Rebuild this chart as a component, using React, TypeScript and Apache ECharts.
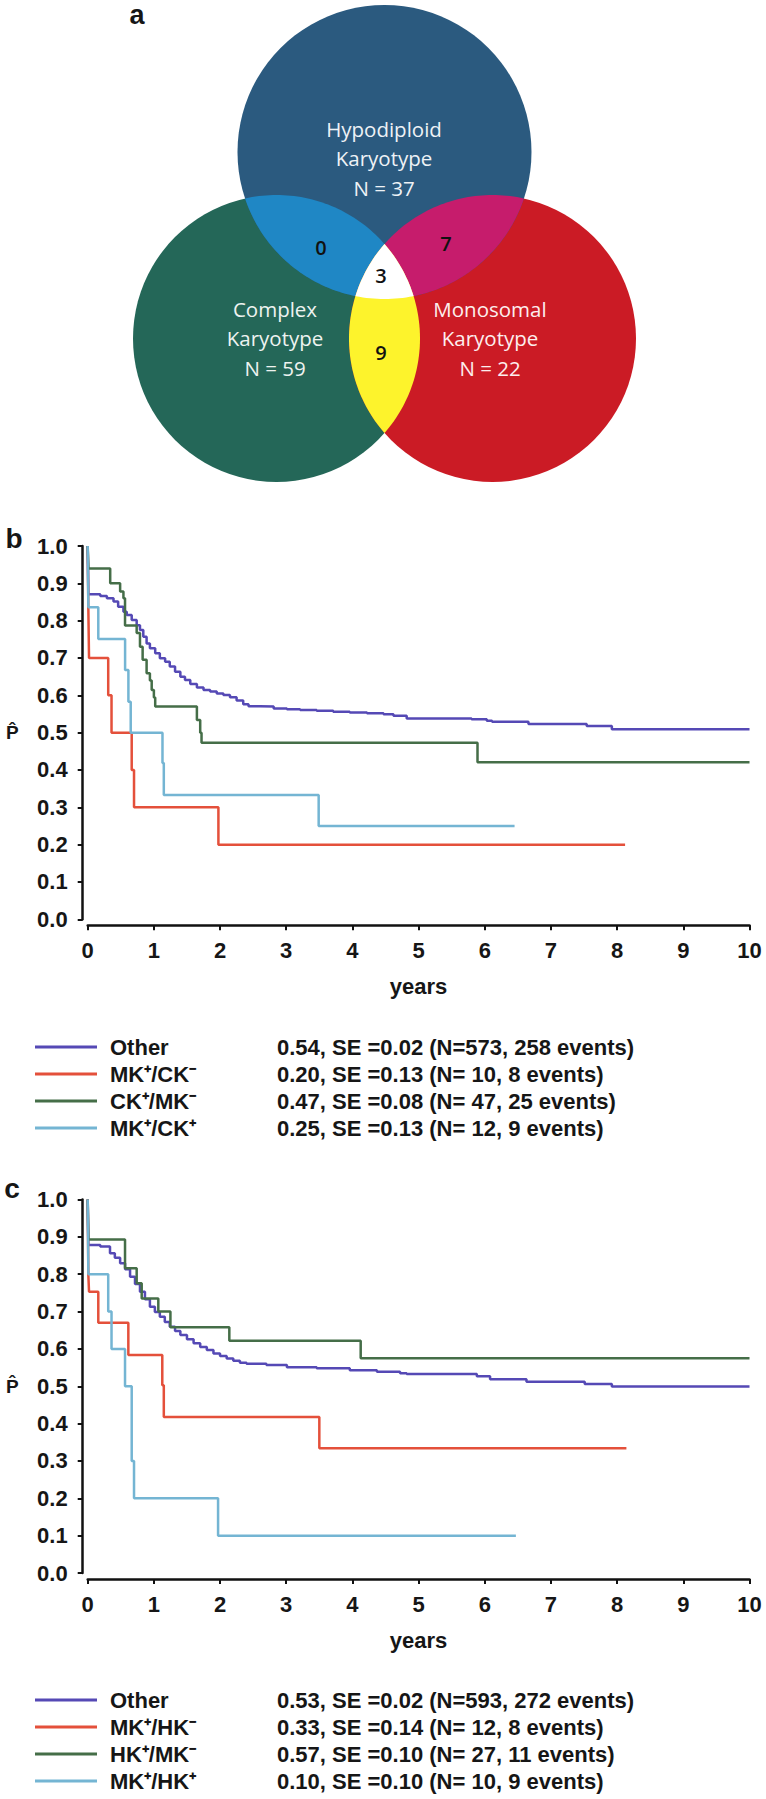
import React, { useEffect, useRef } from "react";
import * as echarts from "echarts";

// ---------- Panel a: Venn diagram counts ----------
const vennSetTitles = ["Hypodiploid\nKaryotype", "Complex\nKaryotype", "Monosomal\nKaryotype"];
const vennSetTotals = [37, 59, 22];
const vennOverlapHkCk = 0;
const vennOverlapHkMk = 7;
const vennOverlapCkMk = 9;
const vennOverlapAll = 3;

// ---------- Panel b: Kaplan-Meier, MK / CK ----------
const bNames = ["Other", "MK⁺/CK⁻", "CK⁺/MK⁻", "MK⁺/CK⁺"];
const bStats = [
  "0.54, SE =0.02 (N=573, 258 events)",
  "0.20, SE =0.13 (N= 10, 8 events)",
  "0.47, SE =0.08 (N= 47, 25 events)",
  "0.25, SE =0.13 (N= 12, 9 events)",
];
const bOther = [
  [0, 1.0], [0.01, 0.871], [0.19, 0.866], [0.29, 0.86], [0.39, 0.851], [0.46, 0.837], [0.54, 0.824],
  [0.59, 0.815], [0.665, 0.802], [0.74, 0.788], [0.79, 0.775], [0.84, 0.757], [0.89, 0.739], [0.94, 0.726],
  [1.02, 0.713], [1.09, 0.699], [1.17, 0.69], [1.24, 0.677], [1.32, 0.663], [1.4, 0.65], [1.47, 0.641],
  [1.55, 0.63], [1.65, 0.621], [1.75, 0.614], [1.85, 0.61], [1.95, 0.605], [2.05, 0.601], [2.15, 0.595],
  [2.25, 0.586], [2.35, 0.576], [2.43, 0.571], [2.6, 0.57], [2.81, 0.565], [3.01, 0.563], [3.21, 0.561],
  [3.46, 0.559], [3.71, 0.556], [3.96, 0.554], [4.22, 0.552], [4.47, 0.549], [4.62, 0.545], [4.82, 0.538],
  [5.8, 0.536], [6.03, 0.532], [6.11, 0.529], [6.66, 0.523], [7.54, 0.518], [7.92, 0.509], [10, 0.509],
];
const bMkPosCkNeg = [
  [0, 1.0], [0.01, 0.83], [0.02, 0.7], [0.31, 0.6], [0.36, 0.5], [0.665, 0.4], [0.7, 0.3], [1.975, 0.2], [8.12, 0.2],
];
const bCkPosMkNeg = [
  [0, 1.0], [0.01, 0.94], [0.34, 0.9], [0.49, 0.878], [0.54, 0.86], [0.564, 0.787], [0.74, 0.767], [0.79, 0.73],
  [0.83, 0.695], [0.89, 0.659], [0.94, 0.64], [0.967, 0.614], [1.0, 0.594], [1.02, 0.57], [1.65, 0.534],
  [1.7, 0.5], [1.72, 0.473], [5.89, 0.421], [10, 0.421],
];
const bMkPosCkPos = [
  [0, 1.0], [0.01, 0.836], [0.16, 0.751], [0.565, 0.668], [0.615, 0.583], [0.65, 0.5], [1.13, 0.419],
  [1.15, 0.333], [3.49, 0.25], [6.45, 0.25],
];

// ---------- Panel c: Kaplan-Meier, MK / HK ----------
const cNames = ["Other", "MK⁺/HK⁻", "HK⁺/MK⁻", "MK⁺/HK⁺"];
const cStats = [
  "0.53, SE =0.02 (N=593, 272 events)",
  "0.33, SE =0.14 (N= 12, 8 events)",
  "0.57, SE =0.10 (N= 27, 11 events)",
  "0.10, SE =0.10 (N= 10, 9 events)",
];
const cOther = [
  [0, 1.0], [0.01, 0.878], [0.19, 0.874], [0.337, 0.856], [0.41, 0.844], [0.49, 0.829], [0.565, 0.813],
  [0.64, 0.793], [0.715, 0.774], [0.79, 0.753], [0.865, 0.733], [0.94, 0.713], [1.015, 0.699], [1.09, 0.686],
  [1.165, 0.672], [1.24, 0.659], [1.32, 0.648], [1.4, 0.637], [1.5, 0.626], [1.6, 0.615], [1.7, 0.605],
  [1.8, 0.597], [1.9, 0.588], [2.0, 0.581], [2.1, 0.574], [2.2, 0.568], [2.3, 0.563], [2.4, 0.56],
  [2.7, 0.557], [3.01, 0.551], [3.46, 0.548], [3.96, 0.543], [4.37, 0.539], [4.72, 0.535], [4.82, 0.533],
  [5.88, 0.527], [6.08, 0.519], [6.63, 0.512], [7.51, 0.506], [7.92, 0.499], [10, 0.499],
];
const cMkPosHkNeg = [
  [0, 1.0], [0.01, 0.798], [0.02, 0.753], [0.16, 0.67], [0.614, 0.584], [1.127, 0.503], [1.15, 0.418],
  [3.5, 0.334], [8.14, 0.334],
];
const cHkPosMkNeg = [
  [0, 1.0], [0.01, 0.893], [0.564, 0.816], [0.74, 0.776], [0.816, 0.735], [1.067, 0.7], [1.25, 0.658],
  [2.14, 0.622], [4.125, 0.575], [10, 0.575],
];
const cMkPosHkPos = [
  [0, 1.0], [0.01, 0.8], [0.31, 0.7], [0.36, 0.6], [0.564, 0.5], [0.665, 0.3], [0.7, 0.2], [1.97, 0.1], [6.47, 0.1],
];

// ---------- styles / layout ----------
const lineColors = ["#5549b5", "#e4503b", "#456e48", "#74b5d3"];
const FONT = "'Liberation Sans', Arial, sans-serif";
const TXT = "#161616";
const VENN_FONT = "'Open Sans', 'Noto Sans', sans-serif";
const circTop = { cx: 384.5, cy: 152, r: 147 };
const circLeft = { cx: 276.5, cy: 338.5, r: 143.5 };
const circRight = { cx: 492.5, cy: 338.5, r: 143.5 };
const vennFill = {
  top: "#2b5a7f",
  left: "#246758",
  right: "#cb1b25",
  topLeft: "#1f87c5",
  topRight: "#c61c6c",
  leftRight: "#fdf32c",
  all: "#ffffff",
};
const gridB = { left: 87.7, top: 546, width: 661.8, height: 373.3 };
const gridC = { left: 87.7, top: 1199.5, width: 661.8, height: 373.5 };

type Pt = number[];
function circlePoly(c: { cx: number; cy: number; r: number }, n = 256): Pt[] {
  const pts: Pt[] = [];
  for (let i = 0; i < n; i++) {
    const a = (i / n) * Math.PI * 2;
    pts.push([c.cx + c.r * Math.cos(a), c.cy + c.r * Math.sin(a)]);
  }
  return pts;
}
function clipConvex(subject: Pt[], clip: Pt[]): Pt[] {
  let area = 0;
  for (let i = 0; i < clip.length; i++) {
    const p = clip[i], q = clip[(i + 1) % clip.length];
    area += p[0] * q[1] - q[0] * p[1];
  }
  const s = area > 0 ? 1 : -1;
  const inside = (p: Pt, a: Pt, b: Pt) => s * ((b[0] - a[0]) * (p[1] - a[1]) - (b[1] - a[1]) * (p[0] - a[0])) >= 0;
  const inter = (p: Pt, q: Pt, a: Pt, b: Pt): Pt => {
    const dx1 = q[0] - p[0], dy1 = q[1] - p[1], dx2 = b[0] - a[0], dy2 = b[1] - a[1];
    const den = dx1 * dy2 - dy1 * dx2;
    const t = ((a[0] - p[0]) * dy2 - (a[1] - p[1]) * dx2) / den;
    return [p[0] + t * dx1, p[1] + t * dy1];
  };
  let out = subject.slice();
  for (let i = 0; i < clip.length && out.length; i++) {
    const a = clip[i], b = clip[(i + 1) % clip.length];
    const inp = out;
    out = [];
    let prev = inp[inp.length - 1];
    for (const cur of inp) {
      const ci = inside(cur, a, b), pi = inside(prev, a, b);
      if (ci) {
        if (!pi) out.push(inter(prev, cur, a, b));
        out.push(cur);
      } else if (pi) out.push(inter(prev, cur, a, b));
      prev = cur;
    }
  }
  return out;
}

function vennGraphics() {
  const pT = circlePoly(circTop), pL = circlePoly(circLeft), pR = circlePoly(circRight);
  const tl = clipConvex(pT, pL), tr = clipConvex(pT, pR), lr = clipConvex(pL, pR);
  const all = clipConvex(tl, pR);
  const label = (text: string, x: number, y: number, fill: string, size: number, weight: string) => ({
    type: "text", x, y, z: 5, silent: true,
    style: { text, fill, font: `${weight} ${size}px ${VENN_FONT}`, align: "center", verticalAlign: "middle",
      textAlign: "center", textVerticalAlign: "middle", lineHeight: 29.5 },
  });
  return [
    { type: "circle", z: 1, silent: true, shape: { ...circLeft }, style: { fill: vennFill.left } },
    { type: "circle", z: 1, silent: true, shape: { ...circRight }, style: { fill: vennFill.right } },
    { type: "circle", z: 1, silent: true, shape: { ...circTop }, style: { fill: vennFill.top } },
    { type: "polygon", z: 2, silent: true, shape: { points: tl }, style: { fill: vennFill.topLeft } },
    { type: "polygon", z: 2, silent: true, shape: { points: tr }, style: { fill: vennFill.topRight } },
    { type: "polygon", z: 2, silent: true, shape: { points: lr }, style: { fill: vennFill.leftRight } },
    { type: "polygon", z: 3, silent: true, shape: { points: all }, style: { fill: vennFill.all } },
    label(`${vennSetTitles[0]}\nN = ${vennSetTotals[0]}`, 384, 158, "#eef2f6", 20.5, "normal"),
    label(`${vennSetTitles[1]}\nN = ${vennSetTotals[1]}`, 275, 338, "#eef3f0", 20.5, "normal"),
    label(`${vennSetTitles[2]}\nN = ${vennSetTotals[2]}`, 490, 338, "#fdeeee", 20.5, "normal"),
    label(String(vennOverlapHkCk), 321, 247, "#111", 20, "600"),
    label(String(vennOverlapHkMk), 446, 243, "#111", 20, "600"),
    label(String(vennOverlapAll), 381, 275, "#111", 20, "600"),
    label(String(vennOverlapCkMk), 381, 352, "#111", 20, "600"),
  ];
}

function panelLabel(text: string, x: number, y: number, size: number) {
  return {
    type: "text", x, y, z: 10, silent: true,
    style: { text, fill: TXT, font: `bold ${size}px ${FONT}`, align: "center", verticalAlign: "middle",
      textAlign: "center", textVerticalAlign: "middle" },
  };
}

const labelStyle = { fontFamily: FONT, fontWeight: "bold", fontSize: 22, color: TXT };

function xAxisFor(gridIndex: number) {
  return {
    type: "value", gridIndex, min: 0, max: 10, interval: 1, offset: 6,
    axisLine: { show: true, onZero: false, lineStyle: { color: "#111", width: 2.5 } },
    axisTick: { show: true, length: 5, lineStyle: { color: "#111", width: 2 } },
    splitLine: { show: false },
    axisLabel: { ...labelStyle, margin: 14 },
    name: "years", nameLocation: "middle", nameGap: 50,
    nameTextStyle: { ...labelStyle },
  };
}
function yAxisFor(gridIndex: number) {
  return {
    type: "value", gridIndex, min: 0, max: 1, interval: 0.1, offset: 5,
    axisLine: { show: true, onZero: false, lineStyle: { color: "#111", width: 2.5 } },
    axisTick: { show: true, length: 5, lineStyle: { color: "#111", width: 2 } },
    splitLine: { show: false },
    axisLabel: { ...labelStyle, margin: 15, formatter: (v: number) => v.toFixed(1) },
    name: "P̂", nameLocation: "middle", nameRotate: 0, nameGap: 64,
    nameTextStyle: { fontFamily: FONT, fontWeight: "bold", fontSize: 19, color: TXT },
  };
}
function kmSeries(name: string, data: number[][], color: string, idx: number) {
  return {
    type: "line", name, data, step: "end", xAxisIndex: idx, yAxisIndex: idx,
    showSymbol: false, symbol: "none", clip: false, silent: true,
    lineStyle: { color, width: 2.5 }, itemStyle: { color },
  };
}
function legendFor(names: string[], stats: string[], top: number) {
  return {
    data: names, orient: "vertical", left: 35, top, padding: 0, itemGap: 0,
    itemWidth: 62, itemHeight: 3, icon: "rect", selectedMode: false,
    formatter: (name: string) => `{a|${name}}{b|${stats[names.indexOf(name)]}}`,
    textStyle: {
      ...labelStyle, lineHeight: 27,
      rich: {
        a: { ...labelStyle, lineHeight: 27, width: 167, padding: [0, 0, 0, 8] },
        b: { ...labelStyle, lineHeight: 27 },
      },
    },
  };
}

function buildOption() {
  return {
    animation: false,
    backgroundColor: "#ffffff",
    textStyle: { fontFamily: FONT },
    grid: [gridB, gridC],
    xAxis: [xAxisFor(0), xAxisFor(1)],
    yAxis: [yAxisFor(0), yAxisFor(1)],
    legend: [legendFor(bNames, bStats, 1033.5), legendFor(cNames, cStats, 1686.5)],
    series: [
      kmSeries(bNames[0], bOther, lineColors[0], 0),
      kmSeries(bNames[1], bMkPosCkNeg, lineColors[1], 0),
      kmSeries(bNames[2], bCkPosMkNeg, lineColors[2], 0),
      kmSeries(bNames[3], bMkPosCkPos, lineColors[3], 0),
      kmSeries(cNames[0], cOther, lineColors[0], 1),
      kmSeries(cNames[1], cMkPosHkNeg, lineColors[1], 1),
      kmSeries(cNames[2], cHkPosMkNeg, lineColors[2], 1),
      kmSeries(cNames[3], cMkPosHkPos, lineColors[3], 1),
    ],
    graphic: [
      ...vennGraphics(),
      panelLabel("a", 137, 14.5, 27),
      panelLabel("b", 14, 538, 28),
      panelLabel("c", 12, 1188, 28),
    ],
  };
}

export default function App() {
  const ref = useRef<HTMLDivElement>(null);
  useEffect(() => {
    document.body.style.margin = "0";
    const chart = echarts.init(ref.current as HTMLDivElement, null, { renderer: "svg" });
    chart.setOption(buildOption() as any);
    return () => chart.dispose();
  }, []);
  return <div ref={ref} style={{ width: 766, height: 1799 }} />;
}
